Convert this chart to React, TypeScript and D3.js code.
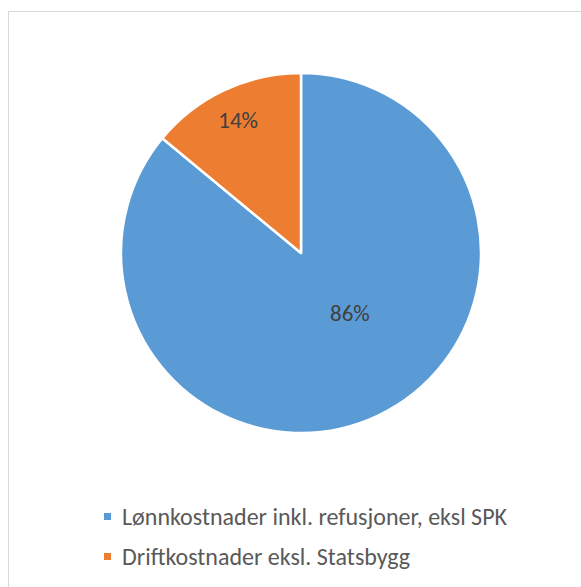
import * as d3 from "d3";

const categories = ["Lønnkostnader inkl. refusjoner, eksl SPK", "Driftkostnader eksl. Statsbygg"];
const values = [86, 14];
const colors = ["#5b9bd5", "#ed7d31"];

const W = 581;
const H = 587;
const cx = 301;
const cy = 253;
const R = 180;
// label placement (fraction of radius, angle nudge in degrees)
const labelRadius = [0.43, 0.82];
const labelShift = [-14, 0];

export default function App() {
  const pie = d3
    .pie<number>()
    .sort(null)
    .startAngle(0)
    .endAngle(2 * Math.PI)
    .value((d) => d);
  const arcs = pie(values);
  const arc = d3.arc<d3.PieArcDatum<number>>().innerRadius(0).outerRadius(R);
  const total = d3.sum(values);

  return (
    <svg
      width={W}
      height={H}
      style={{ position: "absolute", left: 0, top: 0, background: "#fff" }}
      fontFamily="Carlito, Calibri, Lato, sans-serif"
    >
      <rect x={8.5} y={11.5} width={700} height={700} fill="#fff" stroke="#d9d9d9" strokeWidth={1} />
      <g transform={`translate(${cx},${cy})`}>
        {arcs.map((a, i) => (
          <path key={i} d={arc(a) ?? ""} fill={colors[i]} stroke="#fff" strokeWidth={2.5} strokeLinejoin="round" />
        ))}
        {arcs.map((a, i) => {
          const mid = (a.startAngle + a.endAngle) / 2 + (labelShift[i] * Math.PI) / 180;
          const [x, y] = d3.pointRadial(mid, R * labelRadius[i]);
          return (
            <text key={i} x={x} y={y} dy="0.35em" textAnchor="middle" fontSize={23} fill="#404040">
              {`${Math.round((values[i] / total) * 100)}%`}
            </text>
          );
        })}
      </g>
      {categories.map((c, i) => (
        <g key={c} transform={`translate(104,${517 + i * 40})`}>
          <rect x={0} y={-4} width={7} height={7} fill={colors[i]} />
          <text x={18} y={0} dy="0.35em" fontSize={24} fill="#595959">
            {c}
          </text>
        </g>
      ))}
    </svg>
  );
}
